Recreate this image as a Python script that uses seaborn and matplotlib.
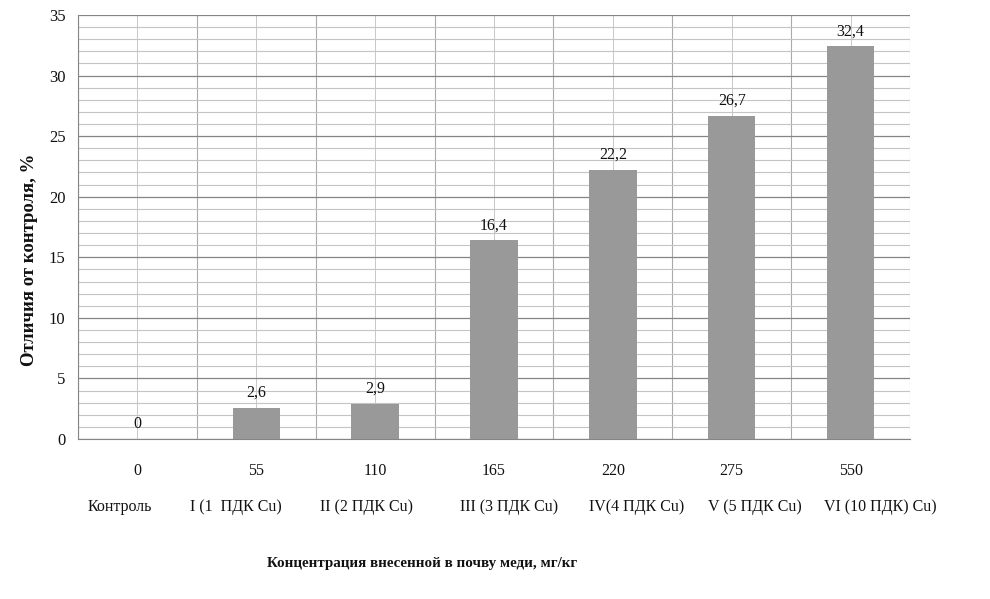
import matplotlib
matplotlib.use("Agg")

import matplotlib.pyplot as plt
from matplotlib.ticker import MultipleLocator
import seaborn as sns
import pandas as pd

# ── Data ────────────────────────────────────────────────────────────────────
doses = ["0", "55", "110", "165", "220", "275", "550"]
groups = ["Контроль", "I (1  ПДК Cu)", "II (2 ПДК Cu)", "III (3 ПДК Cu)",
          "IV(4 ПДК Cu)", "V (5 ПДК Cu)", "VI (10 ПДК) Cu)"]
diff_pct = [0, 2.6, 2.9, 16.4, 22.2, 26.7, 32.4]

# hand-placed centres of the group-name row (pixels), as in the source layout
GROUP_X = [120, 236, 367, 509, 637, 755, 880]

BAR = "#999999"
MAJOR = "#858585"
MINOR = "#c4c4c4"
TEXT = "#111111"

sns.set_style("white")
plt.rcParams["font.family"] = ["Liberation Serif", "DejaVu Serif"]

df = pd.DataFrame({"dose": doses, "value": diff_pct})

fig = plt.figure(figsize=(9.9, 5.99), dpi=100)
ax = fig.add_axes([78 / 990, 1 - 439 / 599, (910 - 78) / 990, (439 - 15) / 599])

sns.barplot(data=df, x="dose", y="value", color=BAR, width=0.4,
            saturation=1, edgecolor="none", ax=ax, zorder=3)

ax.set_xlim(-0.5, len(doses) - 0.5)
ax.set_ylim(0, 35)
ax.yaxis.set_major_locator(MultipleLocator(5))
ax.yaxis.set_minor_locator(MultipleLocator(1))
ax.set_xticks([i - 0.5 for i in range(len(doses) + 1)], minor=False)
ax.set_xticklabels([])
ax.set_xticks(range(len(doses)), minor=True)

ax.grid(which="major", axis="y", color=MAJOR, linewidth=0.9, zorder=0)
ax.grid(which="minor", axis="y", color=MINOR, linewidth=0.8, zorder=0)
ax.grid(which="major", axis="x", color="#aaaaaa", linewidth=0.8, zorder=0)
ax.grid(which="minor", axis="x", color="#c8c8c8", linewidth=0.7, zorder=0)
ax.set_axisbelow(True)

for s in ["top", "right"]:
    ax.spines[s].set_visible(False)
ax.spines["left"].set_color(MAJOR)
ax.spines["bottom"].set_color(MAJOR)

ax.tick_params(axis="y", which="major", length=5, color=MAJOR, labelsize=12,
               labelcolor=TEXT, pad=4)
ax.tick_params(axis="y", which="minor", length=0)
ax.tick_params(axis="x", which="major", length=6, color=MAJOR, direction="out")
ax.tick_params(axis="x", which="minor", length=0, labelsize=11.5, labelcolor=TEXT, pad=17)
ax.set_xticklabels(doses, minor=True)

# value labels
for i, v in enumerate(diff_pct):
    ax.annotate(f"{v:g}".replace(".", ","), (i, v), xytext=(0, 5),
                textcoords="offset points", ha="center", va="bottom",
                fontsize=11.5, color=TEXT)

# group names row
for gx, g in zip(GROUP_X, groups):
    fig.text(gx / 990, 1 - 507 / 599, g, ha="center", va="center",
             fontsize=11.5, color=TEXT)

ax.set_xlabel("")
ax.set_ylabel("")
fig.text(422 / 990, 1 - 563 / 599, "Концентрация внесенной в почву меди, мг/кг",
         ha="center", va="center", fontsize=10.8, fontweight="bold", color=TEXT)
fig.text(30 / 990, 1 - 260 / 599, "Отличия от контроля, %", rotation=90,
         ha="center", va="center", fontsize=13.5, fontweight="bold", color=TEXT)

fig.savefig("out.png", dpi=100, facecolor="white")
